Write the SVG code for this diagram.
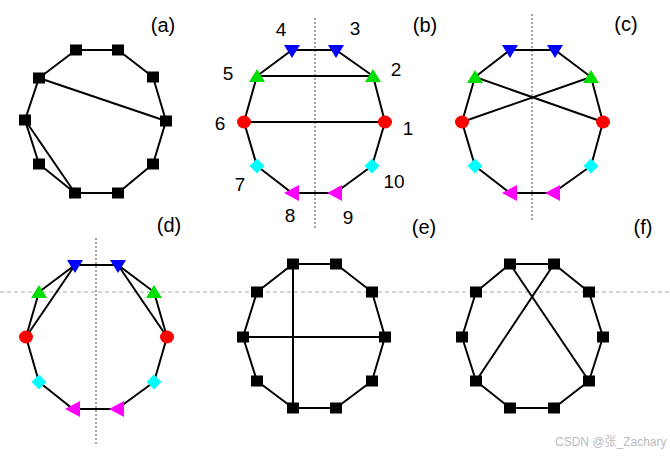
<svg xmlns="http://www.w3.org/2000/svg" xmlns:xlink="http://www.w3.org/1999/xlink" width="670" height="456" viewBox="0 0 670 456">
<style>
.e{stroke:#000;stroke-width:2;fill:none}
.ax{stroke:#888;stroke-width:1.5;stroke-dasharray:2,2;fill:none}
.hx{stroke:#aaa;stroke-width:1;stroke-dasharray:4,3;fill:none}
.lb{font-family:"Liberation Sans",Arial,sans-serif;font-size:20px;fill:#000;text-anchor:middle}
.nm{font-family:"Liberation Sans",Arial,sans-serif;font-size:19px;fill:#000;text-anchor:middle}
.wm{font-family:"Liberation Sans","Noto Sans CJK SC",sans-serif;font-size:12px;fill:#bbb}
</style>
<defs>
<rect id="sq" x="-6" y="-5.5" width="12" height="11" fill="#000"/>
<polygon id="bt" points="-8,-6 8,-6 0,7" fill="#0000ff"/>
<polygon id="gt" points="-8,6 8,6 0,-7" fill="#00dd00"/>
<ellipse id="rc" rx="7" ry="6.5" fill="#ff0000"/>
<polygon id="cd" points="0,-7.5 7.5,0 0,7.5 -7.5,0" fill="#00ffff"/>
<polygon id="mt" points="-8,0 7,-8 7,8" fill="#ff00ff"/>
</defs>
<rect width="670" height="456" fill="#fff"/>
<g id="axes">
<line class="hx" x1="0" y1="292" x2="670" y2="292"/>
<line class="ax" x1="315" y1="18" x2="315" y2="228"/>
<line class="ax" x1="532" y1="14" x2="532" y2="222"/>
<line class="ax" x1="96" y1="238" x2="96" y2="445"/>
</g>
<g id="connectors">
<polygon class="e" points="76,50 118,50 153,77 166,121 153,164 118,193 75,193 39,164 25,120 39,78"/>
<line class="e" x1="39" y1="78" x2="166" y2="121"/>
<line class="e" x1="25" y1="120" x2="75" y2="193"/>
<polygon class="e" points="385,122 373,76 336,50 292,50 257,76 244,122 257,166 292,193 335,193 372,166"/>
<line class="e" x1="257" y1="76" x2="373" y2="76"/>
<line class="e" x1="244" y1="122" x2="385" y2="122"/>
<polygon class="e" points="603,122 591,77 555,50 510,50 475,77 462,122 475,166 510,193 553,193 591,166"/>
<line class="e" x1="475" y1="77" x2="603" y2="122"/>
<line class="e" x1="462" y1="122" x2="591" y2="77"/>
<polygon class="e" points="167,337 154,292 118,265 75,265 39,292 26,337 39,382 73,409 117,409 154,382"/>
<line class="e" x1="75" y1="265" x2="26" y2="337"/>
<line class="e" x1="118" y1="265" x2="167" y2="337"/>
<polygon class="e" points="293,264 336,264 372,292 385,337 372,381 336,408 293,408 257,381 243,337 257,292"/>
<line class="e" x1="293" y1="264" x2="293" y2="408"/>
<line class="e" x1="243" y1="337" x2="385" y2="337"/>
<polygon class="e" points="510,264 554,264 589,292 603,337 589,381 554,408 510,408 476,381 462,337 476,292"/>
<line class="e" x1="510" y1="264" x2="589" y2="381"/>
<line class="e" x1="554" y1="264" x2="476" y2="381"/>
</g>
<g id="a1"><use xlink:href="#sq" x="76" y="50"/></g>
<g id="a2"><use xlink:href="#sq" x="118" y="50"/></g>
<g id="a3"><use xlink:href="#sq" x="153" y="77"/></g>
<g id="a4"><use xlink:href="#sq" x="166" y="121"/></g>
<g id="a5"><use xlink:href="#sq" x="153" y="164"/></g>
<g id="a6"><use xlink:href="#sq" x="118" y="193"/></g>
<g id="a7"><use xlink:href="#sq" x="75" y="193"/></g>
<g id="a8"><use xlink:href="#sq" x="39" y="164"/></g>
<g id="a9"><use xlink:href="#sq" x="25" y="120"/></g>
<g id="a10"><use xlink:href="#sq" x="39" y="78"/></g>
<g id="b1"><use xlink:href="#rc" x="385" y="122"/></g>
<g id="b2"><use xlink:href="#gt" x="373" y="76"/></g>
<g id="b3"><use xlink:href="#bt" x="336" y="51"/></g>
<g id="b4"><use xlink:href="#bt" x="292" y="51"/></g>
<g id="b5"><use xlink:href="#gt" x="257" y="76"/></g>
<g id="b6"><use xlink:href="#rc" x="244" y="122"/></g>
<g id="b7"><use xlink:href="#cd" x="257" y="166"/></g>
<g id="b8"><use xlink:href="#mt" x="292" y="193"/></g>
<g id="b9"><use xlink:href="#mt" x="335" y="193"/></g>
<g id="b10"><use xlink:href="#cd" x="372" y="166"/></g>
<g id="c1"><use xlink:href="#rc" x="603" y="122"/></g>
<g id="c2"><use xlink:href="#gt" x="591" y="77"/></g>
<g id="c3"><use xlink:href="#bt" x="555" y="51"/></g>
<g id="c4"><use xlink:href="#bt" x="510" y="51"/></g>
<g id="c5"><use xlink:href="#gt" x="475" y="77"/></g>
<g id="c6"><use xlink:href="#rc" x="462" y="122"/></g>
<g id="c7"><use xlink:href="#cd" x="475" y="166"/></g>
<g id="c8"><use xlink:href="#mt" x="510" y="193"/></g>
<g id="c9"><use xlink:href="#mt" x="553" y="193"/></g>
<g id="c10"><use xlink:href="#cd" x="591" y="166"/></g>
<g id="d1"><use xlink:href="#rc" x="167" y="337"/></g>
<g id="d2"><use xlink:href="#gt" x="154" y="292"/></g>
<g id="d3"><use xlink:href="#bt" x="118" y="266"/></g>
<g id="d4"><use xlink:href="#bt" x="75" y="266"/></g>
<g id="d5"><use xlink:href="#gt" x="39" y="292"/></g>
<g id="d6"><use xlink:href="#rc" x="26" y="337"/></g>
<g id="d7"><use xlink:href="#cd" x="39" y="382"/></g>
<g id="d8"><use xlink:href="#mt" x="73" y="409"/></g>
<g id="d9"><use xlink:href="#mt" x="117" y="409"/></g>
<g id="d10"><use xlink:href="#cd" x="154" y="382"/></g>
<g id="e1"><use xlink:href="#sq" x="293" y="264"/></g>
<g id="e2"><use xlink:href="#sq" x="336" y="264"/></g>
<g id="e3"><use xlink:href="#sq" x="372" y="292"/></g>
<g id="e4"><use xlink:href="#sq" x="385" y="337"/></g>
<g id="e5"><use xlink:href="#sq" x="372" y="381"/></g>
<g id="e6"><use xlink:href="#sq" x="336" y="408"/></g>
<g id="e7"><use xlink:href="#sq" x="293" y="408"/></g>
<g id="e8"><use xlink:href="#sq" x="257" y="381"/></g>
<g id="e9"><use xlink:href="#sq" x="243" y="337"/></g>
<g id="e10"><use xlink:href="#sq" x="257" y="292"/></g>
<g id="f1"><use xlink:href="#sq" x="510" y="264"/></g>
<g id="f2"><use xlink:href="#sq" x="554" y="264"/></g>
<g id="f3"><use xlink:href="#sq" x="589" y="292"/></g>
<g id="f4"><use xlink:href="#sq" x="603" y="337"/></g>
<g id="f5"><use xlink:href="#sq" x="589" y="381"/></g>
<g id="f6"><use xlink:href="#sq" x="554" y="408"/></g>
<g id="f7"><use xlink:href="#sq" x="510" y="408"/></g>
<g id="f8"><use xlink:href="#sq" x="476" y="381"/></g>
<g id="f9"><use xlink:href="#sq" x="462" y="337"/></g>
<g id="f10"><use xlink:href="#sq" x="476" y="292"/></g>
<g id="labels">
<text class="lb" x="163" y="32">(a)</text>
<text class="lb" x="425" y="32">(b)</text>
<text class="lb" x="626" y="31">(c)</text>
<text class="lb" x="169" y="232">(d)</text>
<text class="lb" x="424" y="234">(e)</text>
<text class="lb" x="643" y="234">(f)</text>
<text class="nm" x="408" y="135">1</text>
<text class="nm" x="396" y="76">2</text>
<text class="nm" x="355" y="35">3</text>
<text class="nm" x="281" y="36">4</text>
<text class="nm" x="228" y="80">5</text>
<text class="nm" x="220" y="130">6</text>
<text class="nm" x="240" y="191">7</text>
<text class="nm" x="290" y="222">8</text>
<text class="nm" x="348" y="224">9</text>
<text class="nm" x="394" y="188">10</text>
<text class="wm" x="555" y="446">CSDN @张_Zachary</text>
</g>
</svg>
